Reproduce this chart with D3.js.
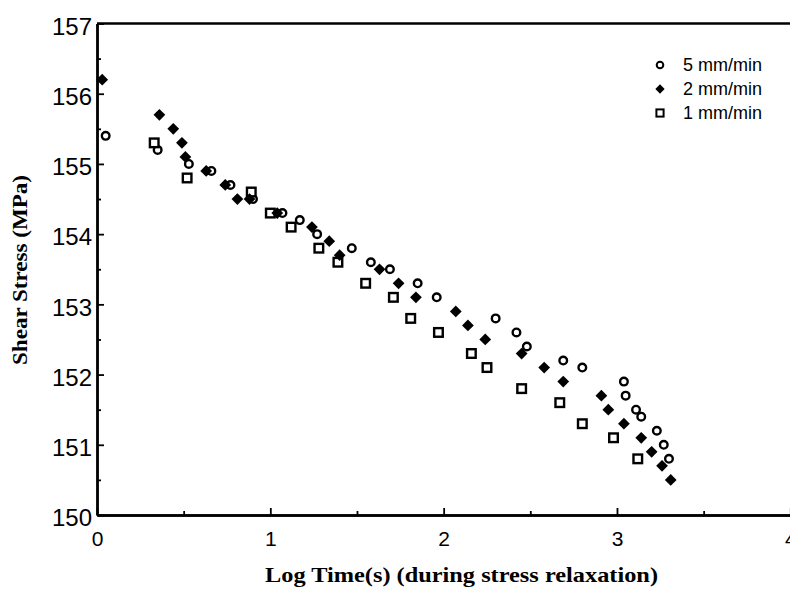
<!DOCTYPE html>
<html>
<head>
<meta charset="utf-8">
<script src="https://cdn.jsdelivr.net/npm/d3@7"></script>
<style>
  body { margin: 0; background: #fff; }
  svg { display: block; }
</style>
</head>
<body>
<div id="chart"></div>
<script>
// Dades llegides del gràfic (log temps, tensió de cisalla)
const rate5 = [
  [0.05, 155.4], [0.35, 155.2], [0.53, 155.0], [0.66, 154.9], [0.77, 154.7],
  [0.90, 154.5], [1.07, 154.3], [1.17, 154.2], [1.27, 154.0], [1.47, 153.8],
  [1.58, 153.6], [1.69, 153.5], [1.85, 153.3], [1.96, 153.1], [2.30, 152.8],
  [2.42, 152.6], [2.48, 152.4], [2.69, 152.2], [2.80, 152.1], [3.04, 151.9],
  [3.05, 151.7], [3.11, 151.5], [3.14, 151.4], [3.23, 151.2], [3.27, 151.0],
  [3.30, 150.8]
];
const rate2 = [
  [0.03, 156.2], [0.36, 155.7], [0.44, 155.5], [0.49, 155.3], [0.51, 155.1],
  [0.63, 154.9], [0.74, 154.7], [0.81, 154.5], [0.88, 154.5], [1.04, 154.3],
  [1.24, 154.1], [1.34, 153.9], [1.40, 153.7], [1.63, 153.5], [1.74, 153.3],
  [1.84, 153.1], [2.07, 152.9], [2.14, 152.7], [2.24, 152.5], [2.45, 152.3],
  [2.58, 152.1], [2.69, 151.9], [2.91, 151.7], [2.95, 151.5], [3.04, 151.3],
  [3.14, 151.1], [3.20, 150.9], [3.26, 150.7], [3.31, 150.5]
];
const rate1 = [
  [0.33, 155.3], [0.52, 154.8], [0.89, 154.6], [1.00, 154.3], [1.12, 154.1],
  [1.28, 153.8], [1.39, 153.6], [1.55, 153.3], [1.71, 153.1], [1.81, 152.8],
  [1.97, 152.6], [2.16, 152.3], [2.25, 152.1], [2.45, 151.8], [2.67, 151.6],
  [2.80, 151.3], [2.98, 151.1], [3.12, 150.8]
];
const xTicks = [0, 1, 2, 3, 4];
const xMinor = [0.5, 1.5, 2.5, 3.5];
const yTicks = [150, 151, 152, 153, 154, 155, 156, 157];
const yMinor = [150.5, 151.5, 152.5, 153.5, 154.5, 155.5, 156.5];
const legendLabels = ["5 mm/min", "2 mm/min", "1 mm/min"];

const W = 790, H = 593;
const margin = { top: 23.5, right: 0, bottom: 78, left: 97 };
const width = 693.3;
const height = H - margin.top - margin.bottom;

const x = d3.scaleLinear().domain([0, 4]).range([0, width]);
const y = d3.scaleLinear().domain([150, 157]).range([height, 0]);

const svg = d3.select("#chart").append("svg")
  .attr("width", W).attr("height", H);
const g = svg.append("g")
  .attr("transform", `translate(${margin.left},${margin.top})`);

// Eixos amb marques cap a dins
const yAxis = g.append("g")
  .call(d3.axisLeft(y).tickValues(yTicks).tickFormat(d3.format("d"))
    .tickSizeInner(-7).tickSizeOuter(0).tickPadding(5));
g.append("g")
  .call(d3.axisLeft(y).tickValues(yMinor).tickFormat("")
    .tickSizeInner(-4).tickSizeOuter(0));

const xAxis = g.append("g")
  .attr("transform", `translate(0,${height})`)
  .call(d3.axisBottom(x).tickValues(xTicks).tickFormat(d3.format("d"))
    .tickSizeInner(-7).tickSizeOuter(0).tickPadding(16));
g.append("g")
  .attr("transform", `translate(0,${height})`)
  .call(d3.axisBottom(x).tickValues(xMinor).tickFormat("")
    .tickSizeInner(-4).tickSizeOuter(0));

g.selectAll(".domain").attr("stroke", "#000").attr("stroke-width", 2.4);
g.selectAll(".tick line").attr("stroke", "#000").attr("stroke-width", 1.8);

yAxis.selectAll(".tick text")
  .attr("font-family", "'Liberation Sans', sans-serif")
  .attr("font-size", 24)
  .attr("dy", "0.45em")
  .attr("fill", "#000");
xAxis.selectAll(".tick text")
  .attr("font-family", "'Liberation Sans', sans-serif")
  .attr("font-size", 21)
  .attr("fill", "#000");

// Línia superior del marc
g.append("line")
  .attr("x1", x(0)).attr("x2", x(4))
  .attr("y1", y(157)).attr("y2", y(157))
  .attr("stroke", "#000").attr("stroke-width", 2.4);

// Marcadors
const diamond = d3.symbol().type(d3.symbolDiamond2).size(88);

g.selectAll(".c5").data(rate5).enter().append("circle")
  .attr("cx", d => x(d[0])).attr("cy", d => y(d[1])).attr("r", 3.8)
  .attr("fill", "#fff").attr("stroke", "#000").attr("stroke-width", 2.4);

g.selectAll(".s1").data(rate1).enter().append("rect")
  .attr("x", d => x(d[0]) - 4.3).attr("y", d => y(d[1]) - 4.3)
  .attr("width", 8.6).attr("height", 8.6)
  .attr("fill", "#fff").attr("stroke", "#000").attr("stroke-width", 2.4);

g.selectAll(".d2").data(rate2).enter().append("path")
  .attr("d", diamond)
  .attr("transform", d => `translate(${x(d[0])},${y(d[1])})`)
  .attr("fill", "#000");

// Llegenda
const legend = svg.append("g").attr("transform", "translate(660,65)");
legendLabels.forEach((lab, i) => {
  const row = legend.append("g").attr("transform", `translate(0,${i * 24})`);
  if (i === 0) {
    row.append("circle").attr("r", 3.3).attr("fill", "#fff")
      .attr("stroke", "#000").attr("stroke-width", 2);
  } else if (i === 1) {
    row.append("path").attr("d", d3.symbol().type(d3.symbolDiamond2).size(55)).attr("fill", "#000");
  } else {
    row.append("rect").attr("x", -3.6).attr("y", -3.6).attr("width", 7.2).attr("height", 7.2)
      .attr("fill", "#fff").attr("stroke", "#000").attr("stroke-width", 2);
  }
  row.append("text")
    .attr("x", 23).attr("y", 0).attr("dy", "0.36em")
    .attr("font-family", "'Liberation Sans', sans-serif")
    .attr("font-size", 18)
    .text(lab);
});

// Títols dels eixos
svg.append("text")
  .attr("transform", "translate(27,270) rotate(-90)")
  .attr("text-anchor", "middle")
  .attr("font-family", "'Liberation Serif', serif")
  .attr("font-weight", "bold")
  .attr("font-size", 20)
  .attr("textLength", 190)
  .attr("lengthAdjust", "spacingAndGlyphs")
  .text("Shear Stress (MPa)");

svg.append("text")
  .attr("x", 461.5).attr("y", 582)
  .attr("text-anchor", "middle")
  .attr("font-family", "'Liberation Serif', serif")
  .attr("font-weight", "bold")
  .attr("font-size", 21)
  .attr("textLength", 393)
  .attr("lengthAdjust", "spacingAndGlyphs")
  .text("Log Time(s) (during stress relaxation)");
</script>
</body>
</html>
